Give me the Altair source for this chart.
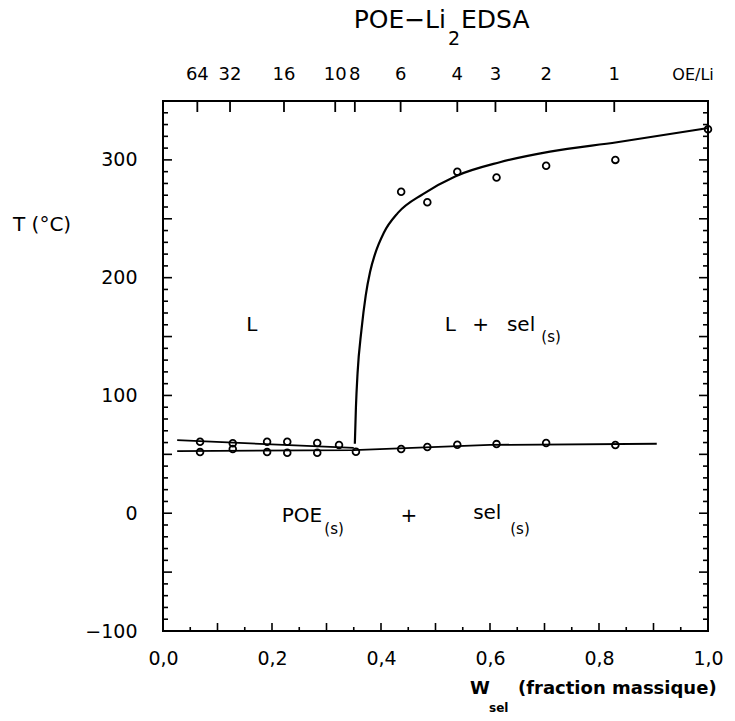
import altair as alt
import pandas as pd

FONT = "DejaVu Sans"
W, H = 545, 530

# ---- data ----
# liquidus measurements (open circles, high T)
liq_w = [0.437, 0.485, 0.540, 0.612, 0.703, 0.830, 1.000]
liq_T = [273, 264, 290, 285, 295, 300, 326]

# low-temperature measurements (melting / eutectic)
sol_w = [0.068, 0.068, 0.128, 0.128, 0.191, 0.191, 0.228, 0.228, 0.283, 0.283,
         0.323, 0.354, 0.437, 0.485, 0.540, 0.612, 0.703, 0.830]
sol_T = [60.7, 51.9, 59.5, 54.5, 60.7, 51.9, 60.7, 51.3, 59.6, 51.3,
         57.9, 52.2, 54.5, 56.2, 58.1, 58.7, 59.6, 57.9]

# liquidus curve
curve_w = [0.352, 0.354, 0.357, 0.364, 0.372, 0.380, 0.389, 0.405, 0.431,
           0.477, 0.536, 0.618, 0.710, 0.833, 1.000]
curve_T = [59, 90, 119, 155, 185, 205, 220, 238, 255, 271, 286, 298, 307, 315, 327]

# solidus lines
up_w = [0.026, 0.350]
up_T = [62.0, 55.5]
low_w = [0.026, 0.350, 0.600, 0.906]
low_T = [52.8, 53.5, 58.0, 59.0]

# top axis: OE/Li ratios
oe_labels = ["64", "32", "16", "10", "8", "6", "4", "3", "2", "1"]
oe_w = [0.063, 0.123, 0.222, 0.316, 0.352, 0.436, 0.540, 0.610, 0.703, 0.828]

# axis labels / ticks
x_label_vals = [0.0, 0.2, 0.4, 0.6, 0.8, 1.0]
y_label_vals = [-100, 0, 100, 200, 300]
x_major = [0.1, 0.2, 0.3, 0.4, 0.5, 0.6, 0.7, 0.8, 0.9]
x_minor = [0.05, 0.15, 0.25, 0.35, 0.45, 0.55, 0.65, 0.75, 0.85, 0.95]
y_major = [-50, 0, 50, 100, 150, 200, 250, 300]
y_minor = [v for v in range(-90, 350, 10) if v % 50 != 0]

# region labels
reg_text = ["L", "L", "+", "sel", "POE", "+", "sel"]
reg_w = [0.163, 0.527, 0.583, 0.657, 0.255, 0.451, 0.595]
reg_T = [160, 160, 160, 160, -2, -2, 0]
sub_text = ["(s)", "(s)", "(s)"]
sub_w = [0.712, 0.314, 0.655]
sub_T = [150, -13, -13]

# ---- build ----
xs = alt.Scale(domain=[0, 1], nice=False, zero=False)
ys = alt.Scale(domain=[-100, 350], nice=False, zero=False)

x_axis = alt.Axis(values=x_label_vals, format=".1f",
                  labelExpr="replace(datum.label, '.', ',')",
                  ticks=False, tickSize=0, domain=False, grid=False,
                  labelPadding=18, labelFontSize=19, labelFont=FONT,
                  labelColor="black", labelFlush=False, title=None)
y_axis = alt.Axis(values=y_label_vals, ticks=False, tickSize=0, domain=False,
                  grid=False, labelPadding=26, labelFontSize=19, labelFont=FONT,
                  labelColor="black", labelFlush=False, title=None)

X = alt.X("w:Q", scale=xs, axis=x_axis)
Y = alt.Y("T:Q", scale=ys, axis=y_axis)

liq_df = pd.DataFrame({"w": liq_w, "T": liq_T})
sol_df = pd.DataFrame({"w": sol_w, "T": sol_T})
curve_df = pd.DataFrame({"w": curve_w, "T": curve_T})
lines_df = pd.concat([
    pd.DataFrame({"w": up_w, "T": up_T, "g": "up"}),
    pd.DataFrame({"w": low_w, "T": low_T, "g": "low"}),
])

curve = alt.Chart(curve_df).mark_line(color="black", strokeWidth=2.2,
                                      interpolate="monotone").encode(x=X, y=Y)
sol_lines = alt.Chart(lines_df).mark_line(color="black", strokeWidth=1.8).encode(
    x=X, y=Y, detail="g:N")
pts_style = dict(shape="circle", filled=False, color="black", strokeWidth=1.8, size=45, opacity=1)
liq_pts = alt.Chart(liq_df).mark_point(**pts_style).encode(x=X, y=Y)
sol_pts = alt.Chart(sol_df).mark_point(**pts_style).encode(x=X, y=Y)

# inward ticks
def xticks(vals, length):
    d = pd.DataFrame({"w": vals})
    return alt.Chart(d).mark_rule(color="black", strokeWidth=1.6).encode(
        x=X, y=alt.value(H), y2=alt.value(H - length))

def yticks(vals, length, right=False):
    d = pd.DataFrame({"T": vals})
    if right:
        return alt.Chart(d).mark_rule(color="black", strokeWidth=1.6).encode(
            y=Y, x=alt.value(W), x2=alt.value(W - length))
    return alt.Chart(d).mark_rule(color="black", strokeWidth=1.6).encode(
        y=Y, x=alt.value(0), x2=alt.value(length))

oe_df = pd.DataFrame({"w": oe_w, "lab": oe_labels})
top_ticks = alt.Chart(oe_df).mark_rule(color="black", strokeWidth=1.8).encode(
    x=X, y=alt.value(0), y2=alt.value(11))
top_labels = alt.Chart(oe_df).mark_text(font=FONT, fontSize=18, color="black",
                                        baseline="middle").encode(
    x=X, y=alt.value(-26), text="lab:N")
oe_title = alt.Chart(pd.DataFrame({"t": ["OE/Li"]})).mark_text(
    font=FONT, fontSize=16, color="black", baseline="middle").encode(
    x=alt.value(530), y=alt.value(-26), text="t:N")

reg_df = pd.DataFrame({"w": reg_w, "T": reg_T, "t": reg_text})
sub_df = pd.DataFrame({"w": sub_w, "T": sub_T, "t": sub_text})
reg = alt.Chart(reg_df).mark_text(font=FONT, fontSize=20, color="black",
                                  baseline="middle").encode(x=X, y=Y, text="t:N")
sub = alt.Chart(sub_df).mark_text(font=FONT, fontSize=15, color="black",
                                  baseline="middle").encode(x=X, y=Y, text="t:N")

def label(txt, x, y, size, align="left", weight="normal", baseline="alphabetic"):
    return alt.Chart(pd.DataFrame({"t": [txt]})).mark_text(
        font=FONT, fontSize=size, color="black", align=align,
        fontWeight=weight, baseline=baseline).encode(
        x=alt.value(x), y=alt.value(y), text="t:N")

titles = [
    label("POE−Li", 283, -73, 25, align="right"),
    label("2", 285, -56, 19),
    label("EDSA", 298, -73, 25),
    label("T (°C)", -150, 124, 20, baseline="middle"),
    label("W", 307, 588, 18, weight="bold", baseline="middle"),
    label("sel", 326, 607, 12, weight="bold", baseline="middle"),
    label("(fraction massique)", 355, 588, 18, align="left", weight="bold",
          baseline="middle"),
]

chart = alt.layer(
    curve, sol_lines, liq_pts, sol_pts,
    xticks(x_major, 8), xticks(x_minor, 4),
    yticks(y_major, 9), yticks(y_minor, 5),
    yticks(y_major, 9, right=True), yticks(y_minor, 5, right=True),
    top_ticks, top_labels, oe_title, reg, sub, *titles,
).properties(
    width=W, height=H,
    autosize=alt.AutoSizeParams(type="none"),
    padding={"left": 163, "top": 101, "right": 27, "bottom": 90},
    background="white",
).configure_view(stroke="black", strokeWidth=2)

chart.save("out.html", embed_options={"renderer": "svg", "actions": False})
